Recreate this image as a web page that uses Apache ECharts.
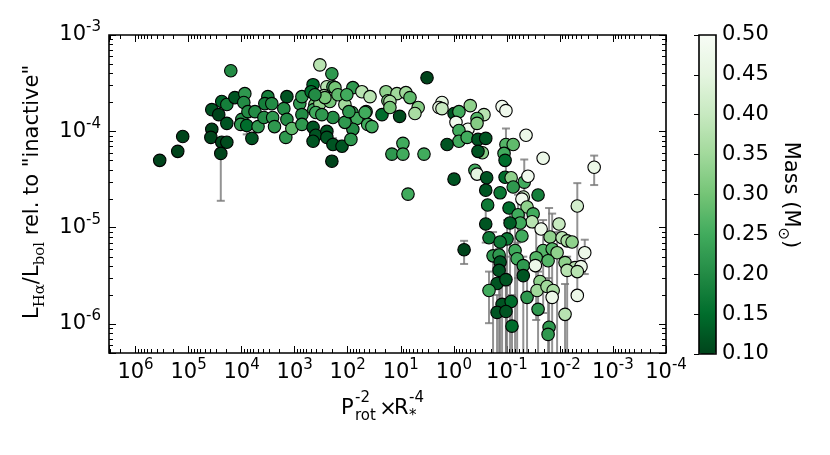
<!DOCTYPE html>
<html><head><meta charset="utf-8">
<script src="https://cdn.jsdelivr.net/npm/echarts@6/dist/echarts.min.js"></script>
<style>html,body{margin:0;padding:0;background:#fff}#c{width:830px;height:455px}</style>
</head><body><div id="c"></div>
<script>
// ---- data ----
const pRotR = [3.5e5,1.6e5,1.29e5,1.6e4,3.65e4,2.37e4,1.9e4,1.34e4,8.7e3,9.1e3,2.7e4,1.9e4,3.65e4,3.8e4,2.37e4,1.9e4,2.47e4,9.9e3,1.04e4,7.6e3,8.0e3,5.6e3,4.9e3,6.4e3,3.8e3,3.2e3,3.65e3,2.7e3,2.6e3,2.4e3,1.4e3,1.6e3,1.4e3,1.47e3,1.13e3,
800,730,730,730,450,490,415,435,335,450,400,450,335,247,280,199,190,174,217,190,247,247,190,199,128,113,83,80,67,80,87,54,38,45,42,35,22.6,19,17.5,14.7,10.5,400,307,269,153,104,415,113,95,47,
11.8,8.0,6.7,4.7,5.4,16,16,3.2,9.1,9.1,3.65,7.3,1.67,1.9,1.67,0.99,0.8,0.49,0.27,0.91,0.54,0.365,0.365,0.8,0.8,0.56,0.35,0.25,0.29,0.35,1.34,0.99,0.4,0.365,0.24,0.25,0.23,
0.123,0.104,0.0435,0.104,0.076,0.113,0.108,0.0207,0.108,0.083,0.047,0.04,0.076,0.134,0.0258,0.049,0.00226,0.0047,0.091,0.052,0.0416,0.0615,0.032,0.0335,0.056,0.087,0.25,0.052,0.217,0.099,0.134,0.64,0.182,0.14,0.134,0.14,0.07,0.064,0.049,0.049,
0.0226,0.0153,0.0104,0.0091,0.0073,0.0059,0.0207,0.014,0.0113,0.028,0.0167,0.008,0.029,0.0052,0.004,0.0034,0.153,0.104,0.217,0.123,0.083,0.153,0.104,0.08,0.0416,0.0258,0.0237,0.027,0.0175,0.0134,0.014,0.0047,0.008,0.016,0.0167,0.0073,0.0047];
const lumRatio = [5.0e-5,6.2e-5,8.85e-5,4.25e-4,1.68e-4,2.04e-4,1.9e-4,2.24e-4,2.46e-4,1.99e-4,1.49e-4,1.21e-4,1.05e-4,8.65e-5,7.7e-5,7.7e-5,5.9e-5,1.33e-4,1.18e-4,1.6e-4,1.15e-4,1.6e-4,1.12e-4,8.45e-5,1.39e-4,2.29e-4,1.94e-4,1.94e-4,1.39e-4,1.12e-4,2.29e-4,1.72e-4,1.33e-4,8.65e-5,1.07e-4,
1.94e-4,2.29e-4,1.49e-4,1.18e-4,3.05e-4,2.58e-4,1.9e-4,1.68e-4,4.9e-4,1.1e-4,9.1e-5,7.9e-5,1.94e-4,2.9e-4,2.35e-4,3.96e-4,2.9e-4,2.84e-4,2.04e-4,1.39e-4,9.98e-5,8.65e-5,7.3e-5,4.9e-5,7.0e-5,1.9e-4,1.57e-4,2.84e-4,1.36e-4,1.05e-4,8.25e-5,2.58e-4,2.29e-4,1.6e-4,1.18e-4,1.12e-4,1.49e-4,2.58e-4,2.08e-4,5.8e-5,1.43e-4,1.57e-4,1.49e-4,2.24e-4,2.4e-4,2.4e-4,2.4e-4,1.24e-4,1.6e-4,1.57e-4,
2.46e-4,2.52e-4,2.24e-4,1.77e-4,1.53e-4,2.04e-4,1.77e-4,3.6e-4,7.5e-5,5.8e-5,5.8e-5,2.23e-5,1.99e-4,1.77e-4,1.72e-4,1.53e-4,1.6e-4,1.85e-4,1.49e-4,1.24e-4,1.05e-4,1.36e-4,1.21e-4,1.02e-4,7.9e-5,8.65e-5,8.25e-5,8.45e-5,6.0e-5,6.2e-5,7.3e-5,3.19e-5,3.95e-5,3.6e-5,3.3e-5,2.45e-5,1.72e-5,
1.81e-4,1.64e-4,9.1e-5,7.3e-5,7.3e-5,5.9e-5,5.0e-5,5.25e-5,3.34e-5,3.3e-5,2.97e-5,3.42e-5,2.64e-5,2.3e-5,2.18e-5,2.08e-5,4.24e-5,1.68e-5,1.6e-5,1.98e-5,1.64e-5,1.36e-5,1.39e-5,1.15e-5,1.12e-5,1.12e-5,1.09e-5,8.2e-6,7.85e-6,7.65e-6,7.1e-6,5.9e-6,5.1e-6,5.2e-6,4.4e-6,3.6e-6,5.8e-6,4.76e-6,4.04e-6,3.18e-6,
9.7e-6,8.0e-6,1.09e-5,7.85e-6,7.3e-6,7.1e-6,5.8e-6,6.0e-6,5.5e-6,4.88e-6,4.54e-6,4.34e-6,4.04e-6,3.85e-6,3.94e-6,5.5e-6,2.63e-6,2.89e-6,2.23e-6,1.6e-6,1.71e-6,1.32e-6,1.35e-6,9.5e-7,1.89e-6,1.42e-6,2.76e-6,2.23e-6,2.45e-6,2.23e-6,1.89e-6,1.98e-6,1.26e-6,9.25e-7,7.8e-7,3.6e-6,3.5e-6];
const mass = [0.10,0.10,0.10,0.20,0.12,0.14,0.18,0.12,0.22,0.20,0.10,0.12,0.10,0.10,0.10,0.11,0.10,0.20,0.22,0.20,0.15,0.20,0.22,0.12,0.20,0.18,0.18,0.20,0.22,0.22,0.12,0.20,0.20,0.22,0.28,
0.22,0.22,0.20,0.22,0.15,0.15,0.30,0.25,0.38,0.12,0.12,0.12,0.33,0.38,0.38,0.22,0.25,0.30,0.30,0.20,0.12,0.12,0.12,0.10,0.12,0.35,0.22,0.22,0.25,0.20,0.22,0.38,0.38,0.25,0.25,0.25,0.15,0.33,0.30,0.22,0.11,0.25,0.22,0.30,0.28,0.25,0.20,0.22,0.22,0.25,
0.35,0.35,0.28,0.32,0.36,0.36,0.30,0.10,0.25,0.25,0.25,0.25,0.45,0.45,0.40,0.12,0.25,0.33,0.38,0.48,0.48,0.27,0.32,0.25,0.25,0.25,0.12,0.12,0.32,0.12,0.12,0.12,0.25,0.45,0.12,0.12,0.17,
0.48,0.48,0.47,0.27,0.28,0.25,0.15,0.47,0.15,0.33,0.25,0.48,0.22,0.17,0.18,0.40,0.47,0.42,0.15,0.48,0.33,0.25,0.25,0.38,0.25,0.13,0.12,0.25,0.17,0.17,0.17,0.10,0.22,0.22,0.12,0.12,0.25,0.25,0.22,0.12,
0.47,0.33,0.40,0.38,0.36,0.33,0.27,0.27,0.33,0.27,0.27,0.33,0.47,0.38,0.47,0.47,0.12,0.12,0.25,0.12,0.15,0.12,0.12,0.15,0.22,0.22,0.33,0.35,0.35,0.36,0.47,0.47,0.38,0.22,0.22,0.38,0.38];

// error bars: x position, lower and upper value
const errX  = [2.47e4,8.0e3,190,128,0.104,0.047,0.00226,0.0047,0.64,0.217,0.153,0.104,0.104,0.08,0.123,0.049,0.0416,0.028,0.016,0.0167,0.014,0.008,0.0034,0.0073,0.0207,0.07,0.134,0.182,0.25,0.0258,0.0113,0.099,0.087,0.064,0.0615,0.14];
const errLo = [1.9e-5,9.3e-5,6.5e-5,6.2e-5,3.3e-5,1.2e-5,2.77e-5,2e-6,4.2e-6,1.02e-6,1e-7,1e-7,1e-7,1e-7,1e-7,1e-7,1e-7,1.1e-6,1e-7,1e-7,1e-7,1e-7,3.3e-6,1e-7,1.3e-6,2e-7,1e-7,2e-7,7e-6,1e-7,4e-7,1e-7,1e-7,1e-7,3e-6,1e-7];
const errHi = [8e-5,1.4e-4,8.5e-5,8e-5,1.07e-4,5.1e-5,5.6e-5,2.9e-5,7.3e-6,3.5e-6,2e-6,2.5e-6,5e-6,2e-6,3e-6,5e-6,4e-6,1e-5,1.6e-5,3e-6,1.4e-5,2.6e-6,7.5e-6,5e-6,1.2e-5,1.1e-5,8e-6,9e-6,1.6e-5,3.5e-6,9e-6,1.2e-5,1.5e-5,7e-6,2.2e-5,6e-6];

// axis ranges and ticks
const xRange = [1e-4, 3.1623e6];
const yRange = [5e-7, 1e-3];
const massRange = [0.1, 0.5];
const minorMult = [2,3,4,5,6,7,8,9];
const xDecades = [-4,-3,-2,-1,0,1,2,3,4,5,6];
const yDecades = [-7,-6,-5,-4];
const greens = ['#00441b','#006d2c','#238b45','#41ab5d','#74c476','#a1d99b','#c7e9c0','#e5f5e0','#f7fcf5'];

// ---- build ----
const FONT = 'DejaVu Sans';
const FS = 21, FSS = 15;
const pts = pRotR.map((x, i) => [x, lumRatio[i], mass[i]]);
const errs = errX.map((x, i) => [x, errLo[i], errHi[i]]);
const xMinor = [], yMinor = [];
xDecades.forEach(d => minorMult.forEach(m => { const v = m * Math.pow(10, d); if (v > xRange[0] && v < xRange[1]) xMinor.push([v, 1e-4]); }));
yDecades.forEach(d => minorMult.forEach(m => { const v = m * Math.pow(10, d); if (v > yRange[0] && v < yRange[1]) yMinor.push([1, v]); }));

const tickRich = {
  b: {fontSize: FS, fontFamily: FONT, color: '#000', lineHeight: 30},
  s: {fontSize: FSS, fontFamily: FONT, color: '#000', padding: [0, 0, 15, 0]}
};
function expLabel(v) {
  const e = Math.log10(v), r = Math.round(e);
  if (Math.abs(e - r) > 1e-6) return '';
  return '{b|10}{s|' + r + '}';
}
const majTick = {show: true, inside: true, length: 7, lineStyle: {color: '#000', width: 1}};
function xAx(pos, showLabel) {
  return {type: 'log', logBase: 10, gridIndex: 0, position: pos, inverse: true, min: xRange[0], max: xRange[1], interval: 1,
    axisLine: {show: false}, axisTick: majTick, splitLine: {show: false}, minorTick: {show: false},
    axisLabel: {show: showLabel, formatter: expLabel, rich: tickRich, margin: 5, showMinLabel: true, showMaxLabel: true, hideOverlap: false}};
}
function yAx(pos, showLabel) {
  return {type: 'log', logBase: 10, gridIndex: 0, position: pos, min: yRange[0], max: yRange[1],
    axisLine: {show: false}, axisTick: majTick, splitLine: {show: false}, minorTick: {show: false},
    axisLabel: {show: showLabel, formatter: expLabel, rich: tickRich, margin: 8, hideOverlap: false}};
}
function txt(x, y, s, size, align) {
  return {type: 'text', x: x, y: y, z: 20, style: {text: s, fontSize: size, fontFamily: FONT, fill: '#000', align: align || 'left', verticalAlign: 'middle'}};
}

const chart = echarts.init(document.getElementById('c'), null, {renderer: 'canvas'});
chart.setOption({
  animation: false,
  backgroundColor: '#fff',
  grid: [
    {left: 109, top: 35, width: 557, height: 318, show: true, borderColor: '#000', borderWidth: 1.6, backgroundColor: 'transparent', z: 5},
    {left: 699, top: 35, width: 17, height: 319, show: true, borderColor: '#000', borderWidth: 1.6, backgroundColor: 'transparent', z: 10}
  ],
  xAxis: [xAx('bottom', true), xAx('top', false),
    {type: 'value', gridIndex: 1, show: false, min: 0, max: 1}],
  yAxis: [yAx('left', true), yAx('right', false),
    {type: 'value', gridIndex: 1, position: 'right', min: massRange[0], max: massRange[1], interval: 0.05,
     axisLine: {show: false}, splitLine: {show: false},
     axisTick: {show: true, inside: true, length: 5, lineStyle: {color: '#000', width: 1}},
     axisLabel: {formatter: v => v.toFixed(2), fontSize: FS, fontFamily: FONT, color: '#000', margin: 6}}],
  visualMap: {
    type: 'continuous', seriesIndex: 3, dimension: 2, min: massRange[0], max: massRange[1],
    calculable: false, hoverLink: false, orient: 'vertical', left: 699, top: 35, padding: 0,
    itemWidth: 17, itemHeight: 319, text: null, showLabel: false,
    inRange: {color: greens}
  },
  series: [
    {type: 'custom', xAxisIndex: 0, yAxisIndex: 0, data: xMinor, encode: {x: 0, y: 1}, silent: true, z: 6,
     renderItem: (params, api) => {
       const p = api.coord([api.value(0), api.value(1)]); const cs = params.coordSys;
       const x = Math.round(p[0]) + 0.5, t = cs.y, b = cs.y + cs.height;
       return {type: 'group', children: [
         {type: 'line', shape: {x1: x, y1: b, x2: x, y2: b - 4}, style: {stroke: '#000', lineWidth: 1}},
         {type: 'line', shape: {x1: x, y1: t, x2: x, y2: t + 4}, style: {stroke: '#000', lineWidth: 1}}]};
     }},
    {type: 'custom', xAxisIndex: 0, yAxisIndex: 0, data: yMinor, encode: {x: 0, y: 1}, silent: true, z: 6,
     renderItem: (params, api) => {
       const p = api.coord([api.value(0), api.value(1)]); const cs = params.coordSys;
       const y = Math.round(p[1]) + 0.5, l = cs.x, r = cs.x + cs.width;
       return {type: 'group', children: [
         {type: 'line', shape: {x1: l, y1: y, x2: l + 4, y2: y}, style: {stroke: '#000', lineWidth: 1}},
         {type: 'line', shape: {x1: r, y1: y, x2: r - 4, y2: y}, style: {stroke: '#000', lineWidth: 1}}]};
     }},
    {type: 'custom', xAxisIndex: 0, yAxisIndex: 0, data: errs, encode: {x: 0, y: [1, 2]}, silent: true, z: 2,
     renderItem: (params, api) => {
       const cs = params.coordSys, bot = cs.y + cs.height, top = cs.y;
       const lo = api.coord([api.value(0), api.value(1)]);
       const hi = api.coord([api.value(0), api.value(2)]);
       const x = lo[0];
       const yl = Math.min(lo[1], bot), yh = Math.max(hi[1], top);
       const st = {stroke: 'rgba(120,120,120,0.8)', lineWidth: 2};
       const ch = [{type: 'line', shape: {x1: x, y1: yl, x2: x, y2: yh}, style: st}];
       if (lo[1] <= bot) ch.push({type: 'line', shape: {x1: x - 4, y1: yl, x2: x + 4, y2: yl}, style: st});
       if (hi[1] >= top) ch.push({type: 'line', shape: {x1: x - 4, y1: yh, x2: x + 4, y2: yh}, style: st});
       return {type: 'group', children: ch};
     }},
    {type: 'scatter', xAxisIndex: 0, yAxisIndex: 0, data: pts, symbol: 'circle', symbolSize: 12.5, z: 3,
     itemStyle: {borderColor: '#000', borderWidth: 1.1, opacity: 1}}
  ],
  graphic: [
    {type: 'text', x: 33, y: 192, rotation: Math.PI / 2, z: 20,
     style: {text: '{n|L}{s|Hα}{n|/L}{s|bol}{n| rel. to "inactive"}', align: 'center', verticalAlign: 'middle',
       rich: {n: {fontSize: FS, fontFamily: FONT, fill: '#000'},
              s: {fontSize: FSS, fontFamily: 'DejaVu Serif', fill: '#000', padding: [14, 0, 0, 0]}}}},
    {type: 'text', x: 790, y: 195, rotation: -Math.PI / 2, z: 20,
     style: {text: '{n|Mass (M}{s|⊙}{n|)}', align: 'center', verticalAlign: 'middle',
       rich: {n: {fontSize: FS, fontFamily: FONT, fill: '#000'},
              s: {fontSize: FSS, fontFamily: FONT, fill: '#000', padding: [14, 0, 0, 0]}}}},
    txt(341, 409, 'P', FS),
    txt(355, 398, '-2', FSS),
    txt(355, 416, 'rot', FSS),
    txt(388, 410, '×', FS, 'center'),
    txt(394, 409, 'R', FS),
    txt(409, 398, '-4', FSS),
    txt(409, 416, '*', FSS)
  ]
});
</script></body></html>
